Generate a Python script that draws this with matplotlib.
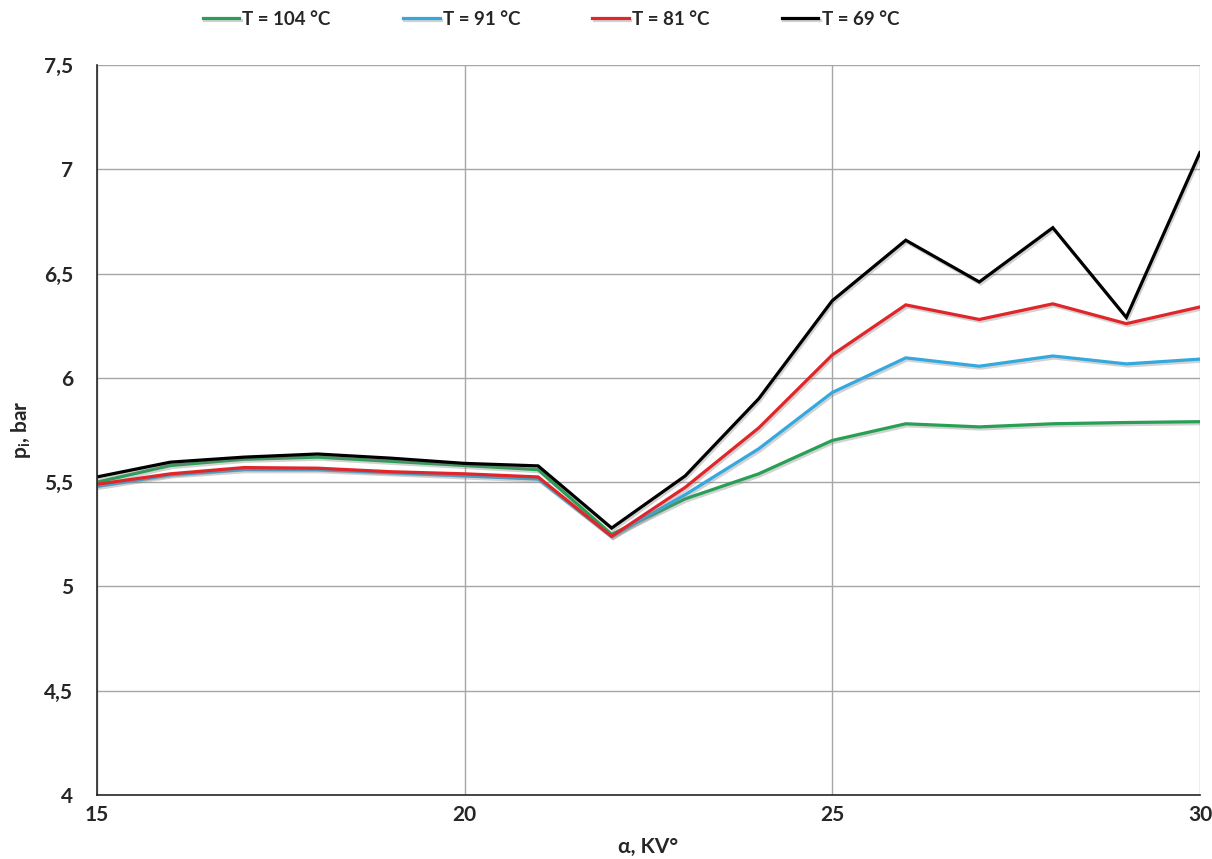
import matplotlib

matplotlib.use("Agg")

import matplotlib.pyplot as plt
import matplotlib.patheffects as pe
from matplotlib.ticker import FixedLocator, FuncFormatter

plt.rcParams["font.family"] = ["Lato", "DejaVu Sans"]
plt.rcParams["font.weight"] = "bold"
plt.rcParams["mathtext.fontset"] = "custom"
plt.rcParams["mathtext.rm"] = "Lato:bold"
plt.rcParams["mathtext.bf"] = "Lato:bold"

# crank angle, KV deg
alpha = [15, 16, 17, 18, 19, 20, 21, 22, 23, 24, 25, 26, 27, 28, 29, 30]

# indicated pressure, bar
p_104 = [5.50, 5.58, 5.61, 5.62, 5.60, 5.58, 5.56, 5.25, 5.42, 5.54, 5.70, 5.78, 5.765, 5.78, 5.786, 5.79]
p_91 = [5.48, 5.535, 5.56, 5.56, 5.545, 5.53, 5.515, 5.24, 5.44, 5.66, 5.93, 6.096, 6.056, 6.105, 6.067, 6.09]
p_81 = [5.49, 5.54, 5.57, 5.567, 5.55, 5.54, 5.525, 5.24, 5.475, 5.76, 6.11, 6.35, 6.28, 6.355, 6.26, 6.34]
p_69 = [5.525, 5.596, 5.62, 5.635, 5.615, 5.59, 5.578, 5.28, 5.53, 5.90, 6.37, 6.66, 6.46, 6.72, 6.29, 7.08]

series = [
    ("T = 104 °C", p_104, "#27a055"),
    ("T = 91 °C", p_91, "#35a9de"),
    ("T = 81 °C", p_81, "#e0262b"),
    ("T = 69 °C", p_69, "#000000"),
]

y_ticks = [4, 4.5, 5, 5.5, 6, 6.5, 7, 7.5]
x_ticks = [15, 20, 25, 30]

fig = plt.figure(figsize=(12.12, 8.59), dpi=100)
ax = fig.add_axes([0.080, 0.0745, 0.910, 0.8498])

shadow = [pe.SimpleLineShadow(offset=(1.0, -1.5), shadow_color="#808080", alpha=0.35), pe.Normal()]
for label, values, color in series:
    ax.plot(alpha, values, color=color, linewidth=2.3, label=label, path_effects=shadow,
            solid_joinstyle="miter")

ax.set_xlim(15, 30)
ax.set_ylim(4, 7.5)
ax.xaxis.set_major_locator(FixedLocator(x_ticks))
ax.yaxis.set_major_locator(FixedLocator(y_ticks))
ax.yaxis.set_major_formatter(FuncFormatter(lambda v, _: f"{v:g}".replace(".", ",")))
ax.grid(True, color="#a6a6a6", linewidth=1.0)
ax.set_axisbelow(True)
ax.tick_params(length=0, labelsize=15, colors="#262626")
ax.tick_params(axis="y", pad=17)
ax.tick_params(axis="x", pad=7)

for side in ["top", "right"]:
    ax.spines[side].set_visible(False)
ax.spines["left"].set_color("#262626")
ax.spines["bottom"].set_color("#262626")
ax.spines["left"].set_linewidth(1.2)
ax.spines["bottom"].set_linewidth(1.2)

ax.set_xlabel("α, KV°", fontsize=15, fontweight="bold", color="#262626", labelpad=9)
ax.set_ylabel(r"p$_\mathbf{i}$, bar", fontsize=15, fontweight="bold", color="#262626", labelpad=8)

ax.legend(loc="center", bbox_to_anchor=(0.4116, 1.0 + 46 / 730), ncol=4, frameon=False,
          fontsize=13.5, handlelength=1.95, handletextpad=0.17, columnspacing=3.85,
          labelcolor="#262626", borderaxespad=0)

fig.savefig("out.png", dpi=100)
